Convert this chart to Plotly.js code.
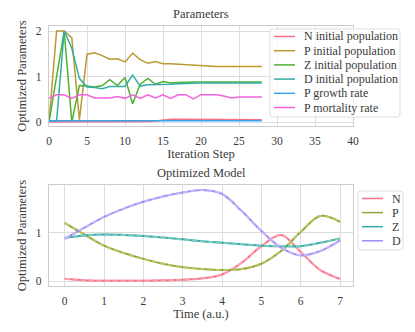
<!DOCTYPE html>
<html>
<head>
<meta charset="utf-8">
<script src="https://cdn.plot.ly/plotly-3.0.1.min.js"></script>
<style>
  body { margin: 0; background: #fff; }
  #graph { width: 415px; height: 332px; }
</style>
</head>
<body>
<div id="graph"></div>
<script>
// optimisation history, one value per iteration step
var steps = [0,1,2,3,4,5,6,7,8,9,10,11,12,13,14,15,16,17,18,19,20,21,22,23,24,25,26,27,28];
var nInit = [0.00,0.00,0.00,0.00,0.00,0.00,0.00,0.00,0.00,0.00,0.00,0.00,0.00,0.01,0.02,0.04,0.06,0.06,0.06,0.06,0.06,0.055,0.055,0.05,0.05,0.05,0.05,0.05,0.05];
var pInit = [0.00,2.00,2.00,1.85,0.05,1.49,1.52,1.46,1.38,1.39,1.32,1.51,1.37,1.29,1.33,1.28,1.28,1.27,1.25,1.24,1.23,1.22,1.22,1.22,1.22,1.22,1.22,1.22,1.22];
var zInit = [0.00,1.00,2.00,0.00,0.80,0.79,0.77,0.80,0.93,0.80,0.98,0.40,0.83,0.96,0.83,0.89,0.86,0.87,0.88,0.88,0.88,0.88,0.88,0.88,0.88,0.88,0.88,0.88,0.88];
var dInit = [0.02,0.02,2.00,1.62,0.96,0.77,0.76,0.73,0.78,0.78,0.78,1.03,0.79,0.82,0.82,0.82,0.83,0.84,0.85,0.86,0.86,0.86,0.86,0.86,0.86,0.86,0.86,0.86,0.86];
var pGrowth = [0.03,0.03,0.03,0.03,0.03,0.03,0.03,0.03,0.03,0.03,0.03,0.03,0.03,0.03,0.03,0.03,0.03,0.03,0.03,0.03,0.03,0.03,0.03,0.03,0.03,0.03,0.03,0.03,0.03];
var pMort = [0.52,0.60,0.60,0.52,0.60,0.60,0.53,0.53,0.53,0.56,0.52,0.60,0.52,0.60,0.53,0.60,0.52,0.60,0.60,0.51,0.60,0.60,0.60,0.57,0.53,0.55,0.55,0.55,0.55];

// optimized model trajectories
var time = [0,0.5,1,1.5,2,2.5,3,3.5,4,4.5,5,5.5,6,6.5,7];
var nPop = [0.05,0.02,0.01,0.01,0.01,0.02,0.03,0.06,0.14,0.38,0.72,0.95,0.60,0.23,0.05];
var pPop = [1.20,0.96,0.73,0.58,0.46,0.36,0.29,0.25,0.23,0.25,0.36,0.62,1.01,1.34,1.22];
var zPop = [0.89,0.94,0.96,0.95,0.93,0.90,0.86,0.82,0.79,0.76,0.73,0.72,0.72,0.79,0.88];
var dPop = [0.87,1.10,1.32,1.49,1.63,1.74,1.82,1.87,1.79,1.44,1.03,0.69,0.53,0.62,0.84];

var paramNames = ['N initial population','P initial population','Z initial population','D initial population','P growth rate','P mortality rate'];
var paramData = [nInit, pInit, zInit, dInit, pGrowth, pMort];
var paramColors = ['#f77189','#bb9832','#50b131','#36ada4','#3ba3ec','#f561dd'];

var modelNames = ['N','P','Z','D'];
var modelData = [nPop, pPop, zPop, dPop];
var modelColors = ['#f77189','#97a431','#36ada4','#a48cf4'];
var modelLight = ['#fba0b0','#bcc46e','#7dcbc4','#c5b6f8'];

var traces = [];
for (var i = 0; i < paramNames.length; i++) {
    traces.push({
        type: 'scatter', mode: 'lines',
        x: steps, y: paramData[i],
        name: paramNames[i],
        line: {color: paramColors[i], width: 1.5},
        xaxis: 'x', yaxis: 'y'
    });
}
for (var i = 0; i < modelNames.length; i++) {
    traces.push({
        type: 'scatter', mode: 'lines',
        x: time, y: modelData[i],
        name: modelNames[i],
        line: {color: modelColors[i], width: 2, shape: 'spline'},
        xaxis: 'x2', yaxis: 'y2'
    });
    traces.push({
        type: 'scatter', mode: 'lines',
        x: time, y: modelData[i],
        line: {color: modelLight[i], width: 2, dash: '5px,3px', shape: 'spline'},
        xaxis: 'x2', yaxis: 'y2'
    });
}

// plot area in pixels, used to place the hand drawn legends
var L = 49, R = 62, T = 26, B = 46, W = 415, H = 332;
function px(x) { return (x - L) / (W - L - R); }
function py(y) { return 1 - (y - T) / (H - T - B); }

var titleSize = 12.5;
var legendSize = 12;
var shapes = [];
var annotations = [
    {text: 'Parameters', xref: 'paper', yref: 'paper', x: 0.5, y: 1, yanchor: 'bottom', yshift: 3, showarrow: false, font: {size: titleSize}},
    {text: 'Optimized Model', xref: 'paper', yref: 'paper', x: 0.5, y: 0.3885, yanchor: 'bottom', yshift: 3, showarrow: false, font: {size: titleSize}}
];

// rounded box as an svg path in paper coordinates
function roundBox(x0, x1, y0, y1, r) {
    return 'M' + px(x0 + r) + ',' + py(y0) +
        ' L' + px(x1 - r) + ',' + py(y0) + ' Q' + px(x1) + ',' + py(y0) + ' ' + px(x1) + ',' + py(y0 + r) +
        ' L' + px(x1) + ',' + py(y1 - r) + ' Q' + px(x1) + ',' + py(y1) + ' ' + px(x1 - r) + ',' + py(y1) +
        ' L' + px(x0 + r) + ',' + py(y1) + ' Q' + px(x0) + ',' + py(y1) + ' ' + px(x0) + ',' + py(y1 - r) +
        ' L' + px(x0) + ',' + py(y0 + r) + ' Q' + px(x0) + ',' + py(y0) + ' ' + px(x0 + r) + ',' + py(y0) + ' Z';
}

function addLegend(names, colors, x0, x1, y0, y1, firstY, gap) {
    shapes.push({type: 'path', xref: 'paper', yref: 'paper', path: roundBox(x0, x1, y0, y1, 3),
        fillcolor: 'rgba(255,255,255,0.8)', line: {color: '#dddddd', width: 1}});
    for (var k = 0; k < names.length; k++) {
        var yy = firstY + k * gap;
        shapes.push({type: 'line', xref: 'paper', yref: 'paper', x0: px(x0 + 4), x1: px(x0 + 25), y0: py(yy), y1: py(yy),
            line: {color: colors[k], width: 1.5}});
        annotations.push({text: names[k], xref: 'paper', yref: 'paper', x: px(x0 + 32), y: py(yy),
            xanchor: 'left', yanchor: 'middle', showarrow: false, font: {size: legendSize}});
    }
}
addLegend(paramNames, paramColors, 270, 400, 29, 117, 36.5, 14.2);
addLegend(modelNames, modelColors, 358, 403, 191, 250, 198.5, 14.1);

var axisStyle = {
    showgrid: true, gridcolor: '#dddddd', gridwidth: 1,
    showline: true, linecolor: '#cccccc', linewidth: 1.2, mirror: true,
    zeroline: false, ticks: 'outside', ticklen: 4, tickcolor: 'rgba(0,0,0,0)',
    tickfont: {size: 11.5, color: '#3a3a3a'}
};

var layout = {
    width: W, height: H,
    margin: {l: L, r: R, t: T, b: B},
    paper_bgcolor: '#fff', plot_bgcolor: '#fff',
    font: {family: 'Liberation Serif, serif', size: 11, color: '#3a3a3a'},
    showlegend: false,
    xaxis: Object.assign({}, axisStyle, {range: [0, 40], tickvals: [0,5,10,15,20,25,30,35,40], domain: [0, 1],
        title: {text: 'Iteration Step', font: {size: titleSize}, standoff: 1}, anchor: 'y'}),
    yaxis: Object.assign({}, axisStyle, {range: [-0.09, 2.11], tickvals: [0,1,2], domain: [0.615, 1],
        title: {text: 'Optimized Parameters', font: {size: titleSize}, standoff: 6}, anchor: 'x'}),
    xaxis2: Object.assign({}, axisStyle, {range: [-0.4, 7.33], tickvals: [0,1,2,3,4,5,6,7], domain: [0, 1],
        title: {text: 'Time (a.u.)', font: {size: titleSize}, standoff: 2}, anchor: 'y2'}),
    yaxis2: Object.assign({}, axisStyle, {range: [-0.097, 1.975], tickvals: [0,1], domain: [0, 0.3885],
        title: {text: 'Optimized Parameters', font: {size: titleSize}, standoff: 6}, anchor: 'x2'}),
    shapes: shapes,
    annotations: annotations
};

Plotly.newPlot(document.getElementById('graph'), traces, layout, {displayModeBar: false, staticPlot: true});
</script>
</body>
</html>
